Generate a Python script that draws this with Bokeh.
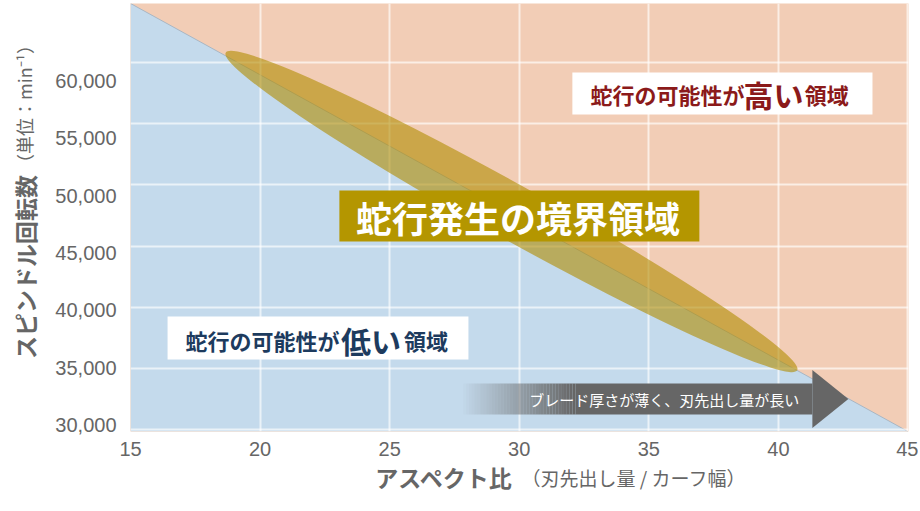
import numpy as np
from bokeh.plotting import figure
from bokeh.models import (Range1d, FixedTicker, NumeralTickFormatter, Grid, BoxAnnotation,
                          Label, LinearAxis)
from bokeh.embed import file_html
from bokeh.resources import INLINE

JP = "Noto Sans CJK JP"

# ticks
x_ticks = [15, 20, 25, 30, 35, 40, 45]
y_ticks = [30000, 35000, 40000, 45000, 50000, 55000, 60000]

# boundary between low / high risk of blade wandering
boundary_x = [15, 45]
boundary_y = [66700, 29480]

# boundary zone (ellipse): centre, size, angle
zone_x = [29.70]
zone_y = [48610]
zone_w = [25.23]
zone_h = [4780]
zone_angle = [-29.07]

# labels
high_label = ["蛇行の可能性が", "高い", "領域"]
low_label = ["蛇行の可能性が", "低い", "領域"]
zone_label = "蛇行発生の境界領域"
arrow_label = "ブレード厚さが薄く、刃先出し量が長い"
x_title = ["アスペクト比", "（刃先出し量 / カーフ幅）"]
y_title = ["スピンドル回転数", "（単位：min⁻¹）"]

y_lo, y_hi = 29478, 66696

p = figure(width=918, height=505,
           x_range=Range1d(15, 45.02), y_range=Range1d(y_lo, y_hi),
           output_backend="svg", toolbar_location=None,
           min_border_left=130, min_border_right=10,
           min_border_top=3, min_border_bottom=74,
           background_fill_color="#f2cdb6", border_fill_color="white",
           outline_line_color=None)


def plain(ax, font, size, color="#666666", style="normal"):
    ax.axis_line_color = None
    ax.major_tick_line_color = None
    ax.minor_tick_line_color = None
    ax.major_tick_out = 0
    ax.major_tick_in = 0
    ax.major_label_text_font = font
    ax.major_label_text_font_size = size
    ax.major_label_text_font_style = style
    ax.major_label_text_color = color


# axes
p.xaxis.ticker = FixedTicker(ticks=x_ticks)
p.yaxis.ticker = FixedTicker(ticks=y_ticks)
p.yaxis.formatter = NumeralTickFormatter(format="0,0")
plain(p.xaxis[0], "Liberation Sans", "20px")
plain(p.yaxis[0], "Liberation Sans", "20px")
p.yaxis.major_label_standoff = 14
p.xaxis.major_label_standoff = 10


# axis titles: two sizes on one line, so each part is a one-tick axis
def title_axis(side, pos, text, size, style, standoff):
    ax = LinearAxis(ticker=FixedTicker(ticks=[pos]), major_label_overrides={pos: text})
    plain(ax, JP, size, style=style)
    ax.major_label_standoff = standoff
    if side == "left":
        ax.major_label_orientation = "parallel"
    p.add_layout(ax, side)


title_axis("below", 27.11, x_title[0], "23px", "bold", 1)
title_axis("below", 34.43, x_title[1], "19px", "normal", -33)
title_axis("left", 43783, y_title[0], "23px", "bold", 10)
title_axis("left", 57957, y_title[1], "18px", "normal", -32)

# grid (horizontal lines sit on their own scale in the original)
p.xgrid.ticker = FixedTicker(ticks=x_ticks)
p.xgrid.grid_line_color = "white"
p.xgrid.grid_line_alpha = 0.65
p.xgrid.grid_line_width = 2
p.ygrid.visible = False
p.extra_y_ranges = {"grid": Range1d(29837, 64823)}
p.add_layout(Grid(dimension=1, ticker=FixedTicker(ticks=y_ticks), y_range_name="grid",
                  grid_line_color="white", grid_line_alpha=0.65, grid_line_width=2))

# low-risk region under the boundary
p.varea(x=boundary_x, y1=[y_lo, y_lo], y2=boundary_y, fill_color="#c4daec", level="image")
p.line(boundary_x, boundary_y, line_color="#a9b6c3", line_width=1, level="image")

# boundary zone
p.ellipse(x=zone_x, y=zone_y, width=zone_w, height=zone_h, angle=zone_angle,
          angle_units="deg", fill_color="#b08c00", fill_alpha=0.6, line_color=None)

# arrow with fading tail
a_start, a_solid, a_end, a_tip = 27.73, 32.17, 41.31, 42.70
a_y, a_half, a_head = 32300, 1348, 2522
n = 40
edges = np.linspace(a_start, a_solid, n + 1)
p.quad(left=edges[:-1], right=edges[1:], bottom=a_y - a_half, top=a_y + a_half,
       fill_color="#666666", fill_alpha=np.linspace(0.0, 1.0, n), line_color=None)
p.quad(left=[a_solid], right=[a_end], bottom=[a_y - a_half], top=[a_y + a_half],
       fill_color="#666666", line_color=None)
p.patch([a_end, a_tip, a_end], [a_y + a_head, a_y, a_y - a_head],
        fill_color="#666666", line_color=None)
p.add_layout(Label(x=35.60, y=32261, text=arrow_label, text_font=JP,
                   text_font_size="15px", text_color="white",
                   text_align="center", text_baseline="middle"))

# high-risk label box
p.add_layout(BoxAnnotation(left=32.05, right=43.63, bottom=57040, top=60700,
                           fill_color="white", fill_alpha=1, line_color=None))
for txt, xx, fs in zip(high_label, [32.75, 38.65, 41.02], ["22px", "30px", "22px"]):
    p.add_layout(Label(x=xx, y=58826, text=txt, text_font=JP, text_font_size=fs,
                       text_font_style="bold", text_color="#8b1a1a",
                       text_align="left", text_baseline="middle"))

# low-risk label box
p.add_layout(BoxAnnotation(left=16.43, right=28.04, bottom=35740, top=39480,
                           fill_color="white", fill_alpha=1, line_color=None))
for txt, xx, fs in zip(low_label, [17.12, 23.12, 25.55], ["22px", "30px", "22px"]):
    p.add_layout(Label(x=xx, y=37478, text=txt, text_font=JP, text_font_size=fs,
                       text_font_style="bold", text_color="#1d3b5e",
                       text_align="left", text_baseline="middle"))

# boundary zone label
p.add_layout(BoxAnnotation(left=23.06, right=36.95, bottom=46000, top=50435,
                           fill_color="#b49600", fill_alpha=1, line_color=None))
p.add_layout(Label(x=29.95, y=48130, text=zone_label, text_font=JP,
                   text_font_size="36px", text_font_style="bold", text_color="white",
                   text_align="center", text_baseline="middle"))

open("out.html", "w").write(file_html(p, INLINE))
